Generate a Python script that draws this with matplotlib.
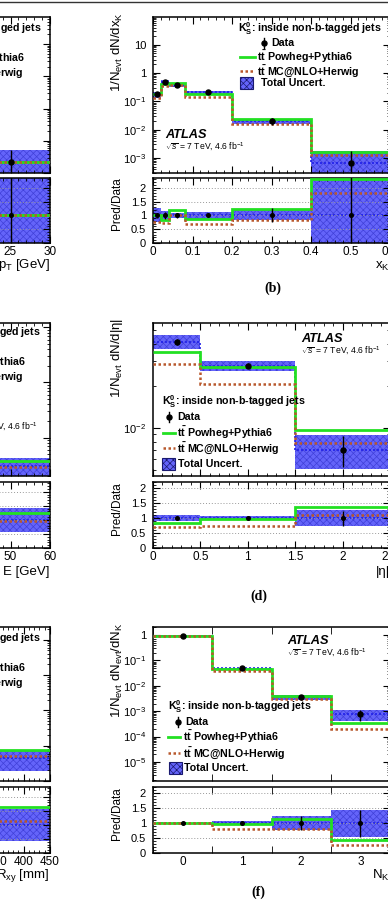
import matplotlib
matplotlib.use("Agg")
import matplotlib.pyplot as plt
import numpy as np
from matplotlib.lines import Line2D
from matplotlib.patches import Rectangle
from matplotlib.ticker import (LogLocator, NullFormatter, FuncFormatter,
                               MultipleLocator, FixedLocator)

W, H = 388, 914

plt.rcParams['font.family'] = ['Liberation Sans', 'DejaVu Sans']
plt.rcParams['mathtext.fontset'] = 'custom'
plt.rcParams['mathtext.rm'] = 'Liberation Sans'
plt.rcParams['mathtext.it'] = 'Liberation Sans:italic'
plt.rcParams['mathtext.bf'] = 'Liberation Sans:bold'
plt.rcParams['hatch.linewidth'] = 0.5

BAND = '#6464fa'
HATCH = '#4040d8'
GREEN = '#22e022'
BROWN = '#b8582c'
BLUE = '#2020e8'

# ---- (b) x_K ----
xk_edges = [0, 0.02, 0.04, 0.08, 0.2, 0.4, 0.6]
xk_data = [0.177, 0.48, 0.37, 0.21, 0.020, 6.8e-4]
xk_derr = [0.10, 0.12, 0.08, 0.04, 0.25, 1.5]     # relative
xk_unc = [0.25, 0.15, 0.10, 0.12, 0.18, 1.5]      # relative total uncert.
xk_powheg = [1.0, 0.82, 1.2, 0.86, 1.22, 2.3]     # Pred/Data
xk_mcnlo = [0.75, 0.72, 1.0, 0.70, 0.82, 1.8]

# ---- (d) |eta| ----
eta_edges = [0, 0.5, 1.5, 2.5]
eta_data = [0.0413, 0.0279, 0.0070]
eta_derr = [0.05, 0.04, 0.25]
eta_unc = [0.11, 0.08, 0.27]
eta_powheg = [0.84, 0.97, 1.38]
eta_mcnlo = [0.69, 0.74, 1.11]

# ---- (f) N_K ----
nk_edges = [-0.5, 0.5, 1.5, 2.5, 3.5]
nk_labels = [0, 1, 2, 3]
nk_data = [0.95, 0.049, 0.0037, 7.8e-4]
nk_derr = [0.01, 0.04, 0.22, 0.45]
nk_unc = [0.01, 0.07, 0.22, 0.45]
nk_powheg = [1.0, 0.96, 1.12, 0.44]
nk_mcnlo = [1.0, 0.80, 0.80, 0.26]

# ---- left column, only the last bins fall inside the crop ----
pt_edges = [20, 30]
pt_data = [2.2e-5]
pt_derr = [1.4]
pt_unc = [1.4]
pt_powheg = [1.03]
pt_mcnlo = [1.0]

e_edges = [30, 60]
e_data = [3.05e-5]
e_derr = [0.3]
e_unc = [0.42]
e_powheg = [1.25]
e_mcnlo = [0.95]

r_edges = [150, 450]
r_data = [4.5e-6]
r_derr = [0.4]
r_unc = [0.57]
r_powheg = [1.64]
r_mcnlo = [1.14]

fig = plt.figure(figsize=(W / 100, H / 100), dpi=100)


def box(x0, x1, ytop, ybot):
    return [x0 / W, 1 - ybot / H, (x1 - x0) / W, (ybot - ytop) / H]


def ftext(x, y, s, **kw):
    kw.setdefault('va', 'center')
    return fig.text(x / W, 1 - y / H, s, **kw)


def logfmt(v, pos):
    e = int(round(np.log10(v)))
    if e == 1:
        return '10'
    if e == 0:
        return '1'
    return r'10$^{%d}$' % e


def style(ax):
    ax.tick_params(which='both', direction='in', top=True, right=True)
    ax.tick_params(which='major', length=5, width=0.8)
    ax.tick_params(which='minor', length=2.5, width=0.6)
    ax.tick_params(axis='x', labelsize=8.5, pad=2)
    ax.tick_params(axis='y', labelsize=8, pad=5)
    for s in ax.spines.values():
        s.set_linewidth(1.1)


def draw(ax_m, ax_r, edges, data, derr, unc, pw, mc):
    edges = np.asarray(edges, float)
    data = np.asarray(data, float)
    derr = np.asarray(derr, float)
    unc = np.asarray(unc, float)
    pw = np.asarray(pw, float)
    mc = np.asarray(mc, float)
    widths = np.diff(edges)
    centers = edges[:-1] + widths / 2
    ones = np.ones_like(data)

    # main panel
    lo = np.clip(data * (1 - unc), 1e-12, None)
    hi = data * (1 + unc)
    ax_m.bar(edges[:-1], hi - lo, width=widths, bottom=lo, align='edge',
             color=BAND, edgecolor=HATCH, hatch='xxxxx', lw=0, zorder=1)
    ax_m.stairs(data, edges, baseline=None, color=BLUE, ls=(0, (1.2, 1.2)), lw=1.2, zorder=2)
    ax_m.stairs(data * pw, edges, baseline=None, color=GREEN, lw=2.0, zorder=3)
    ax_m.stairs(data * mc, edges, baseline=None, color=BROWN, ls=(0, (1, 1)), lw=1.8, zorder=4)
    dlo = data - np.clip(data * (1 - derr), 1e-12, None)
    ax_m.errorbar(centers, data, yerr=[dlo, data * derr], fmt='o', color='k',
                  ms=3.6, elinewidth=1.0, capsize=0, zorder=5)

    # ratio panel
    ax_r.bar(edges[:-1], 2 * unc, width=widths, bottom=1 - unc, align='edge',
             color=BAND, edgecolor=HATCH, hatch='xxxxx', lw=0, zorder=1)
    ax_r.stairs(ones, edges, baseline=None, color=BLUE, ls=(0, (1.2, 1.2)), lw=1.2, zorder=2)
    ax_r.stairs(pw, edges, baseline=None, color=GREEN, lw=2.0, zorder=3)
    ax_r.stairs(mc, edges, baseline=None, color=BROWN, ls=(0, (1, 1)), lw=1.8, zorder=4)
    ax_r.errorbar(centers, ones, yerr=derr, fmt='o', color='k', ms=2.6,
                  elinewidth=1.0, capsize=0, zorder=5)


def make_pair(x0, x1, row, xlim, ylim, rmax):
    mt, mb, rt, rb = row
    ax_m = fig.add_axes(box(x0, x1, mt, mb))
    ax_r = fig.add_axes(box(x0, x1, rt, rb))
    for ax in (ax_m, ax_r):
        style(ax)
        ax.set_xlim(*xlim)
    ax_m.set_yscale('log')
    ax_m.set_ylim(*ylim)
    ax_m.yaxis.set_major_locator(LogLocator(base=10, numticks=100))
    ax_m.yaxis.set_minor_locator(LogLocator(base=10, subs=np.arange(2, 10), numticks=100))
    ax_m.yaxis.set_major_formatter(FuncFormatter(logfmt))
    ax_m.yaxis.set_minor_formatter(NullFormatter())
    ax_m.tick_params(labelbottom=False)
    ax_r.set_ylim(0, rmax)
    ax_r.yaxis.set_major_locator(MultipleLocator(0.5))
    ax_r.yaxis.set_minor_locator(MultipleLocator(0.1))
    ax_r.yaxis.set_major_formatter(FuncFormatter(lambda v, p: '%g' % v))
    ax_r.xaxis.set_major_formatter(FuncFormatter(lambda v, p: '%g' % v))
    ax_r.grid(axis='y', which='major', color='#999999', ls=(0, (1, 2)), lw=0.7)
    ax_r.set_axisbelow(False)
    return ax_m, ax_r


def set_xticks(axes, major, minor):
    for ax in axes:
        ax.xaxis.set_major_locator(MultipleLocator(major))
        ax.xaxis.set_minor_locator(MultipleLocator(minor))


R0, R1 = 153, 390
L0, L1 = -187, 50
rows = [(17, 173, 178, 243), (323, 476, 482, 548), (627, 781, 787, 853)]

# ---------- right column ----------
bm, br = make_pair(R0, R1, rows[0], (0, 0.6), (2.95e-4, 95), 2.35)
set_xticks((bm, br), 0.1, 0.02)
draw(bm, br, xk_edges, xk_data, xk_derr, xk_unc, xk_powheg, xk_mcnlo)

dm, dr = make_pair(R0, R1, rows[1], (0, 2.5), (4.54e-3, 5.62e-2), 2.2)
set_xticks((dm, dr), 0.5, 0.1)
draw(dm, dr, eta_edges, eta_data, eta_derr, eta_unc, eta_powheg, eta_mcnlo)

fm, fr = make_pair(R0, R1, rows[2], (nk_edges[0], nk_edges[-1]), (1.78e-6, 2.07), 2.2)
for ax in (fm, fr):
    ax.xaxis.set_major_locator(FixedLocator(nk_labels))
    ax.xaxis.set_minor_locator(FixedLocator(nk_edges))
    ax.tick_params(axis='x', which='major', length=0)
    ax.tick_params(axis='x', which='minor', length=5)
draw(fm, fr, nk_edges, nk_data, nk_derr, nk_unc, nk_powheg, nk_mcnlo)

# ---------- left column (cropped) ----------
am, ar = make_pair(L0, L1, rows[0], (0, 30), (1e-5, 0.69), 2.35)
set_xticks((am, ar), 5, 1)
draw(am, ar, pt_edges, pt_data, pt_derr, pt_unc, pt_powheg, pt_mcnlo)

cm, cr = make_pair(L0, L1, rows[1], (0, 60), (2e-5, 1.2e-2), 2.35)
set_xticks((cm, cr), 10, 2)
draw(cm, cr, e_edges, e_data, e_derr, e_unc, e_powheg, e_mcnlo)

em, er = make_pair(L0, L1, rows[2], (0, 450), (1e-6, 2.3e-2), 2.35)
set_xticks((em, er), 50, 10)
draw(em, er, r_edges, r_data, r_derr, r_unc, r_powheg, r_mcnlo)

# ---------- axis titles ----------
TSZ = 9.5
ftext(117, 12, r'1/N$_{\rm evt}$ dN/dx$_{\rm K}$', rotation=90, ha='center', va='top', fontsize=TSZ)
ftext(117, 318, r'1/N$_{\rm evt}$ dN/d|η|', rotation=90, ha='center', va='top', fontsize=TSZ)
ftext(117, 622, r'1/N$_{\rm evt}$ dN$_{\rm evt}$/dN$_{\rm K}$', rotation=90, ha='center', va='top', fontsize=TSZ)
for yt in (177, 482, 787):
    ftext(117, yt, 'Pred/Data', rotation=90, ha='center', va='top', fontsize=8.5)

ftext(R1, 266, r'x$_{\rm K}$', ha='right', fontsize=TSZ)
ftext(R1, 572, '|η|', ha='right', fontsize=TSZ)
ftext(R1, 875, r'N$_{\rm K}$', ha='right', fontsize=TSZ)
ftext(L1, 265, r'p$_{\rm T}$ [GeV]', ha='right', fontsize=TSZ)
ftext(L1, 572, 'E [GeV]', ha='right', fontsize=TSZ)
ftext(L1, 875, r'R$_{\rm xy}$ [mm]', ha='right', fontsize=TSZ)

ftext(273, 288, '(b)', ha='center', family='Liberation Serif', weight='bold', fontsize=10)
ftext(259, 596, '(d)', ha='center', family='Liberation Serif', weight='bold', fontsize=10)
ftext(258, 892, '(f)', ha='center', family='Liberation Serif', weight='bold', fontsize=10)

# ---------- ATLAS labels ----------
ATLAS_POS = [(165, 135, 147), (301, 339, 351), (287, 641, 653)]
for x, ya, ys in ATLAS_POS:
    ftext(x, ya, 'ATLAS', weight='bold', style='italic', fontsize=9.2)
    ftext(x, ys, r'$\sqrt{s}$ = 7 TeV, 4.6 fb$^{-1}$', fontsize=6.2)
ftext(38, 427, r'$\sqrt{s}$ = 7 TeV, 4.6 fb$^{-1}$', ha='right', fontsize=6.2)

# ---------- legends ----------
LSZ = 7.7
TITLE = r'$\mathbf{K^{0}_{S}}$: inside non-b-tagged jets'
PW_LAB = r'$\mathbf{t\bar{t}}$ Powheg+Pythia6'
MC_LAB = r'$\mathbf{t\bar{t}}$ MC@NLO+Herwig'


def legend(xt, yt, dmark, dtext, yd, l0, l1, xl, yp, ym, b0, b1, xb, yb):
    ftext(xt, yt, TITLE, weight='bold', fontsize=LSZ)
    fig.add_artist(Line2D([dmark / W] * 2, [1 - (yd - 5) / H, 1 - (yd + 5) / H],
                          color='k', lw=1.0, transform=fig.transFigure))
    fig.add_artist(Line2D([dmark / W], [1 - yd / H], marker='o', ms=3.6, color='k',
                          transform=fig.transFigure))
    ftext(dtext, yd, 'Data', weight='bold', fontsize=LSZ)
    fig.add_artist(Line2D([l0 / W, l1 / W], [1 - yp / H] * 2, color=GREEN, lw=2.0,
                          transform=fig.transFigure))
    ftext(xl, yp, PW_LAB, weight='bold', fontsize=LSZ)
    fig.add_artist(Line2D([l0 / W, l1 / W], [1 - ym / H] * 2, color=BROWN, lw=1.8,
                          ls=(0, (1, 1)), transform=fig.transFigure))
    ftext(xl, ym, MC_LAB, weight='bold', fontsize=LSZ)
    fig.add_artist(Rectangle((b0 / W, 1 - (yb + 6) / H), (b1 - b0) / W, 12 / H,
                             facecolor=BAND, edgecolor='#1a1a70', hatch='xxxxx', lw=0.8,
                             transform=fig.transFigure))
    ftext(xb, yb, 'Total Uncert.', weight='bold', fontsize=LSZ)


legend(238, 29, 264, 271, 43, 240, 255, 257, 57, 71, 240, 253, 261, 83)
legend(162, 402, 169, 177, 417, 163, 175, 177, 433, 448, 162, 175, 178, 464)
legend(168, 707, 178, 185, 722, 168, 180, 183, 737, 753, 169, 182, 184, 768)

# left column legends: only the tails are inside the crop
for y0, ends in ((29, (41.7, 25, 23)), (333, (40.7, 26, 23)), (639, (40.7, 26, 23))):
    ftext(ends[0], y0, TITLE, weight='bold', fontsize=LSZ, ha='right')
    ftext(ends[1], y0 + 29, PW_LAB, weight='bold', fontsize=LSZ, ha='right')
    ftext(ends[2], y0 + 43, MC_LAB, weight='bold', fontsize=LSZ, ha='right')

fig.add_artist(Line2D([0, 1], [1 - 2 / H] * 2, color='#333333', lw=1.0,
                      transform=fig.transFigure))

fig.savefig('out.png', dpi=100)
